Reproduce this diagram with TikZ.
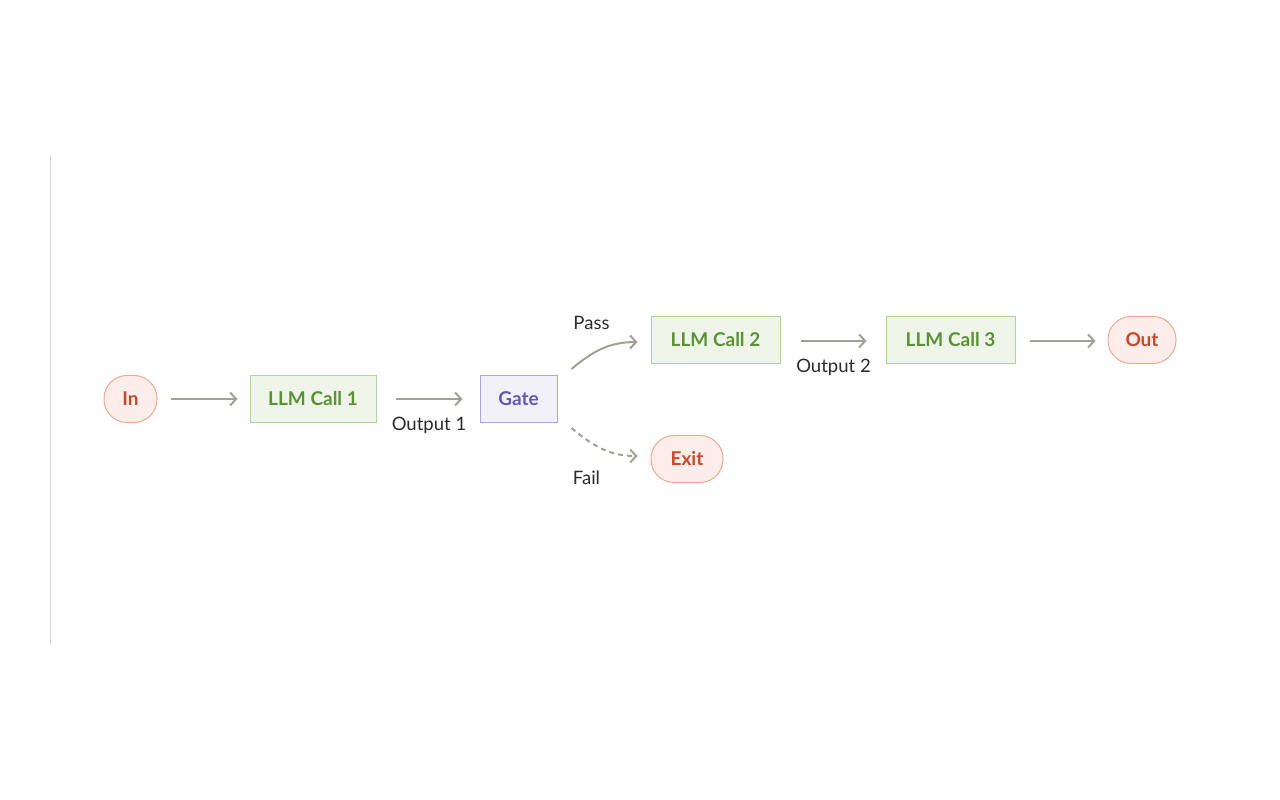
\documentclass[tikz,border=0pt]{standalone}
\usepackage{fontspec}
\setmainfont{Lato}
\usetikzlibrary{arrows.meta,calc}
\definecolor{pinkfill}{HTML}{FBEDE9}
\definecolor{pinkdraw}{HTML}{EFA891}
\definecolor{pinktext}{HTML}{C9472B}
\definecolor{greenfill}{HTML}{EEF5E8}
\definecolor{greendraw}{HTML}{AED397}
\definecolor{greentext}{HTML}{5B9136}
\definecolor{purpfill}{HTML}{F2F1FA}
\definecolor{purpdraw}{HTML}{AFA5E6}
\definecolor{purptext}{HTML}{6457B3}
\definecolor{arrowgray}{HTML}{A3A099}
\definecolor{labeltext}{HTML}{2B2B2B}
\definecolor{sideline}{HTML}{DADADA}
\tikzset{
  termnode/.style={draw=pinkdraw, fill=pinkfill, text=pinktext, rounded corners=23pt, line width=1pt,
    minimum height=47pt, inner sep=0pt, font=\fontsize{19}{22}\selectfont\bfseries},
  llmnode/.style={draw=greendraw, fill=greenfill, text=greentext, line width=1pt,
    minimum width=126pt, minimum height=47pt, inner sep=0pt, font=\fontsize{19}{22}\selectfont\bfseries},
  gatenode/.style={draw=purpdraw, fill=purpfill, text=purptext, line width=1pt,
    minimum width=77pt, minimum height=47pt, inner sep=0pt, font=\fontsize{19}{22}\selectfont\bfseries},
  flow/.style={draw=arrowgray, line width=2pt, -{Straight Barb[length=6pt,width=13pt,line width=2pt]}},
  lbl/.style={text=labeltext, font=\fontsize{18.5}{22}\selectfont, inner sep=0pt},
}
\begin{document}
\begin{tikzpicture}[x=1pt,y=1pt]
\useasboundingbox (0,0) rectangle (1280,800);
\fill[white] (0,0) rectangle (1280,800);
\coordinate (ltop) at (50,645);
\coordinate (lbot) at (50,155);
\draw[sideline, line width=1pt] (ltop) -- (lbot);

\node[termnode, minimum width=53pt] (in) at (130.5,401) {In};
\node[llmnode] (llm1) at (313,401) {LLM Call 1};
\node[gatenode] (gate) at (518.5,401) {Gate};
\node[llmnode, minimum width=129pt] (llm2) at (715.5,460) {LLM Call 2};
\node[llmnode, minimum width=129pt] (llm3) at (950.5,460) {LLM Call 3};
\node[termnode, minimum width=68pt] (out) at (1142,460) {Out};
\node[termnode, minimum width=72pt] (exit) at (687,341) {Exit};

\node[lbl] (pass) at ($(gate.north east)+(34,52.5)$) {Pass};
\node[lbl] (fail) at ($(gate.south east)+(29,-54.5)$) {Fail};

\draw[flow] ($(in.east)+(13,0)$) -- ($(llm1.west)+(-12,0)$);
\draw[flow] ($(llm1.east)+(19,0)$) -- node[lbl, below=17pt] (o1) {Output 1} ($(gate.west)+(-17,0)$);
\draw[flow] ($(gate.north east)+(14,6)$) to[out=40,in=180] ($(llm2.west)+(-13,-2)$);
\draw[flow, dashed, dash pattern=on 5pt off 4pt] ($(gate.south east)+(14,-5)$) to[out=-40,in=180] ($(exit.west)+(-13,3)$);
\draw[flow] ($(llm2.east)+(20,-1)$) -- node[lbl, below=17pt] (o2) {Output 2} ($(llm3.west)+(-19,-1)$);
\draw[flow] ($(llm3.east)+(14,-1)$) -- ($(out.west)+(-12,-1)$);
\end{tikzpicture}
\end{document}
